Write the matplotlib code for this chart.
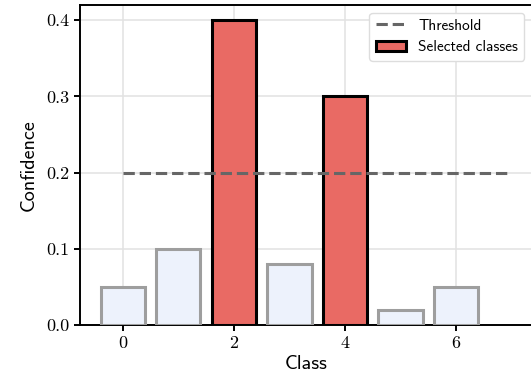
import matplotlib
matplotlib.use("Agg")
import matplotlib.pyplot as plt
import numpy as np

# class confidences and the ones picked by the threshold
classes = [0, 1, 2, 3, 4, 5, 6]
confidence = [0.05, 0.10, 0.40, 0.08, 0.30, 0.02, 0.05]
selected = [2, 4]
threshold = 0.2
xticks = [0, 2, 4, 6]
yticks = [0.0, 0.1, 0.2, 0.3, 0.4]

plt.rcParams['font.family'] = 'cmss10'
plt.rcParams['axes.formatter.use_mathtext'] = True

fig = plt.figure(figsize=(5.31, 3.84), dpi=100)
ax = fig.add_axes([80 / 531, 59 / 384, 452 / 531, 320 / 384])

for c, v in zip(classes, confidence):
    if c in selected:
        ax.bar(c, v, width=0.8, color='#e96a64', edgecolor='black', linewidth=2.2,
               label='Selected classes' if c == selected[0] else None, zorder=3)
    else:
        ax.bar(c, v, width=0.8, color='#edf2fc', edgecolor='#9e9e9e', linewidth=2.2, zorder=3)

ax.plot([0, 7], [threshold, threshold], '--', color='#666666', linewidth=2.2,
        label='Threshold', zorder=4)

ax.set_xticks(xticks)
ax.set_yticks(yticks)
ax.set_xticklabels([str(t) for t in xticks], fontfamily='cmr10')
ax.set_yticklabels(['%.1f' % t for t in yticks], fontfamily='cmr10')
ax.tick_params(labelsize=13, width=1.4, length=4)
ax.set_xlabel('Class', fontsize=14.5, labelpad=3)
ax.set_ylabel('Confidence', fontsize=14.5, labelpad=6)
ax.grid(True, color='#e2e2e2', linewidth=1.1, zorder=0)
ax.set_axisbelow(True)
for s in ax.spines.values():
    s.set_linewidth(1.4)

ax.legend(loc='upper right', fontsize=11, framealpha=1, edgecolor='#dddddd')

fig.savefig('out.png', dpi=100)
